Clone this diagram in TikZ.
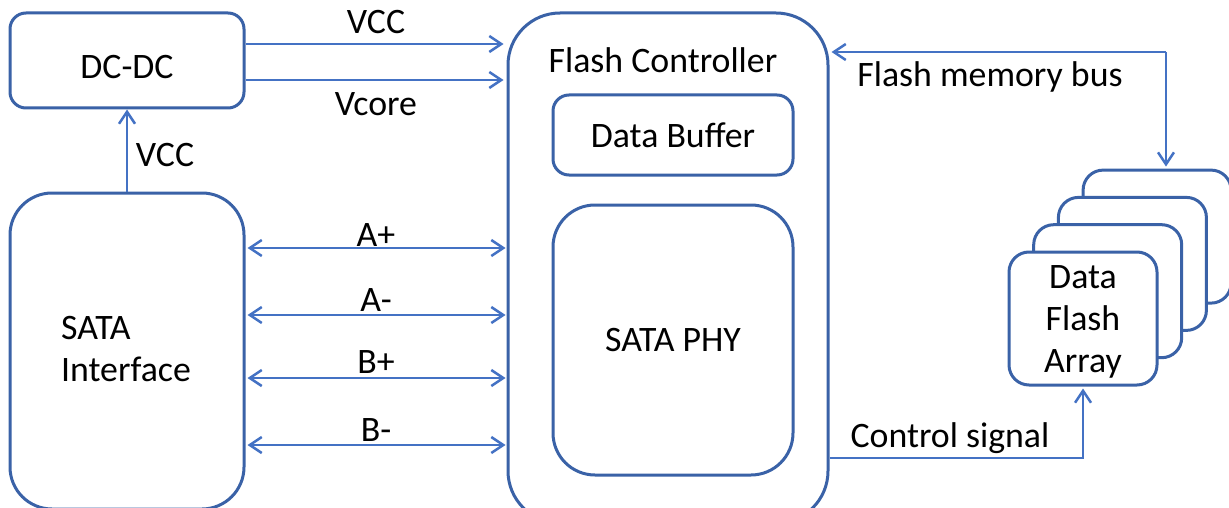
\documentclass[tikz,border=0pt]{standalone}
\usepackage{fontspec}
\setmainfont{Carlito}
\usetikzlibrary{arrows.meta,calc}
\definecolor{boxline}{RGB}{58,98,167}
\definecolor{wire}{RGB}{68,114,196}
\begin{document}
\begin{tikzpicture}[x=1pt,y=-1pt,
  font=\fontsize{35.8}{42}\selectfont,
  blk/.style={draw=boxline,line width=3pt,fill=white,inner sep=0pt},
  wirestyle/.style={draw=wire,line width=2.5pt,-{Straight Barb[length=12pt,width=16pt,line width=2.5pt]}},
  biwire/.style={draw=wire,line width=2.5pt,{Straight Barb[length=12pt,width=16pt,line width=2.5pt]}-{Straight Barb[length=12pt,width=16pt,line width=2.5pt]}},
  lbl/.style={inner sep=0pt,text=black}]
\useasboundingbox (0,0) rectangle (1229,508);
\clip (0,0) rectangle (1229,508);

% blocks
\node[blk,rounded corners=16pt,minimum width=234pt,minimum height=95pt] (dcdc) at (127,60.5) {};
\node[lbl] (dcdctxt) at (127,67) {DC-DC};
\node[blk,rounded corners=42pt,minimum width=234pt,minimum height=316pt] (sata) at (127,351) {};
\node[lbl,align=left] (satatxt) at (126,349) {SATA\\Interface};
\node[blk,rounded corners=52pt,minimum width=320pt,minimum height=510pt] (fc) at (668,268) {};
\node[lbl] (fctitle) at (663,60) {Flash Controller};
\node[blk,rounded corners=16pt,minimum width=240pt,minimum height=80pt] (buf) at (673,135) {Data Buffer};
\node[blk,rounded corners=42pt,minimum width=240pt,minimum height=270pt] (phy) at (673,340) {SATA PHY};

% stacked flash array
\foreach \i in {3,2,1} {
  \node[blk,rounded corners=20pt,minimum width=148pt,minimum height=133pt]
    (fa\i) at ({1083+24.7*\i},{318.5-27.3*\i}) {};
}
\node[blk,rounded corners=20pt,minimum width=148pt,minimum height=133pt] (fa0) at (1083,318.5) {};
\node[lbl,align=center] (fatxt) at (1083,322) {Data\\Flash\\Array};

% power rails
\coordinate (vccend) at ($(fc.west)+(-3,0)$);
\draw[wirestyle] (dcdc.east |- 0,44) -- (vccend |- 0,44);
\draw[wirestyle] (dcdc.east |- 0,80) -- (vccend |- 0,80);
\node[lbl] (lvcc) at (376,22) {VCC};
\node[lbl] (lvcore) at (376,104) {Vcore};
\draw[wirestyle] (sata.north) -- (dcdc.south);
\node[lbl] (lvcc2) at (165,155) {VCC};

% SATA differential pairs
\foreach \y/\t/\ty in {248/A+/235, 315/A-/300, 378/B+/362, 445/B-/430} {
  \draw[biwire] ($(sata.east |- 0,\y)+(2,0)$) -- ($(fc.west |- 0,\y)+(-1,0)$);
  \node[lbl] at (376,\ty) {\t};
}

% flash memory bus
\coordinate (busc) at (1166,52);
\draw[wirestyle] (busc) -- ($(fc.east |- busc)+(2,0)$);
\draw[wirestyle] (busc) -- ($(busc |- fa3.north)+(0,-2)$);
\node[lbl] (lbus) at (990,77) {Flash memory bus};

% control signal
\coordinate (ctlc) at (1083,458);
\draw[wirestyle] (fc.east |- ctlc) -- (ctlc) -- ($(fa0.south)+(0,2)$);
\node[lbl] (lctl) at (950,438) {Control signal};
\end{tikzpicture}
\end{document}
